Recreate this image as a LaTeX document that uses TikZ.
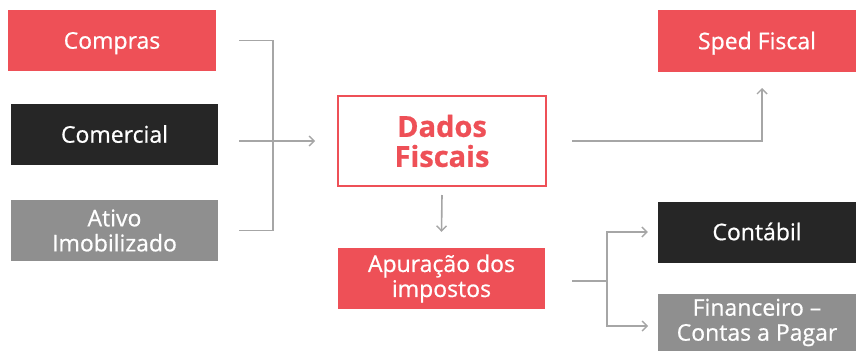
\documentclass[tikz,border=0pt]{standalone}
\usepackage{fontspec}
\setmainfont{Open Sans}[FakeBold=0.7]
\usetikzlibrary{arrows.meta}
\definecolor{boxred}{HTML}{EE5057}
\definecolor{boxdark}{HTML}{262626}
\definecolor{boxgray}{HTML}{8F8F8F}
\definecolor{linkgray}{HTML}{A6A6A6}
\tikzset{
  block/.style={rectangle, inner sep=0pt, align=center, text=white,
    font=\fontsize{23}{25}\selectfont},
  oneline/.style={text height=16.4pt, text depth=0pt},
  redblock/.style={block, fill=boxred},
  darkblock/.style={block, fill=boxdark},
  grayblock/.style={block, fill=boxgray},
  link/.style={draw=linkgray, line width=1.6pt},
  arrow/.style={link, -{Straight Barb[length=5pt,width=10pt,line width=1.4pt]}}
}
\begin{document}
\begin{tikzpicture}[x=1pt,y=-1pt]
      \useasboundingbox (0,0) rectangle (856,351);
      \clip (0,0) rectangle (856,351);
      \draw
        (112,40.5) node[redblock, oneline, minimum width=208, minimum height=61] (compras){Compras}
        (114.5,134.5) node[darkblock, oneline, minimum width=207, minimum height=61] (comercial){Comercial}
        (114.5,230.5) node[grayblock, minimum width=207, minimum height=61] (ativo){Ativo\\Imobilizado}
        (442,141) node[block, draw=boxred, line width=2pt, text=boxred, minimum width=208, minimum height=90,
          font=\fontsize{29}{30}\selectfont\bfseries] (dados){Dados\\Fiscais}
        (441.5,278.5) node[redblock, minimum width=207, minimum height=61] (apuracao){Apuração dos\\impostos}
        (757,41) node[redblock, oneline, minimum width=198, minimum height=62] (sped){Sped Fiscal}
        (757,232) node[darkblock, oneline, minimum width=198, minimum height=61] (contabil){Contábil}
        (757,322.5) node[grayblock, minimum width=198, minimum height=57] (financeiro){Financeiro –\\Contas a Pagar};
      \coordinate (join) at (273,141);
      \coordinate (spedin) at (762,88);
      \coordinate (split) at (607,281);
      \coordinate (finin) at (648,326);
      \begin{scope}[link]
        \draw ([xshift=23]compras.east) -| (join);
        \draw ([xshift=21]ativo.east) -| (join);
        \draw[arrow] ([xshift=21]comercial.east |- join) -- ([xshift=-22]dados.west);
        \draw[arrow] ([xshift=25]dados.east) -| (spedin);
        \draw[arrow] ([yshift=-8]dados.south) -- ([yshift=16]apuracao.north);
        \draw ([xshift=27]apuracao.east |- split) -- (split);
        \draw[arrow] (split) |- ([xshift=-10]contabil.west);
        \draw[arrow] (split) |- (finin);
      \end{scope}
    \end{tikzpicture}
\end{document}
